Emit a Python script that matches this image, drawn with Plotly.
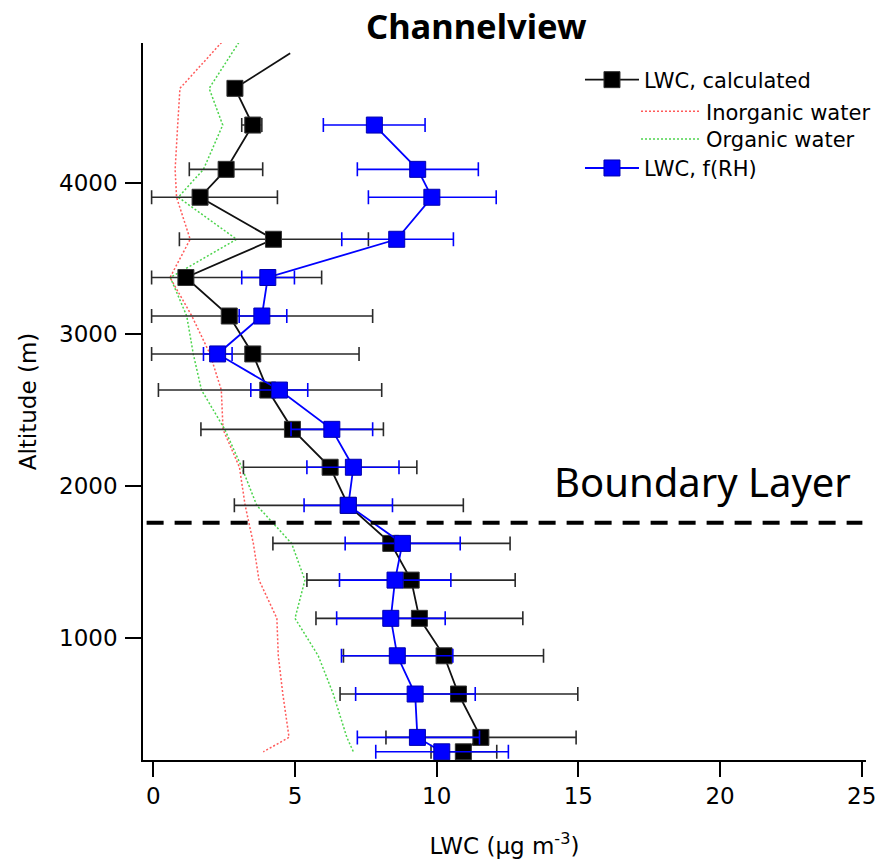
import plotly.graph_objects as go

# Altitude bins (m), top to bottom
altitude = [4622, 4380, 4088, 3904, 3627, 3375, 3121, 2871, 2633, 2374,
            2124, 1873, 1622, 1380, 1128, 881, 629, 343, 248]

# LWC calculated (ug m-3) with lower / upper error limits
lwc_calc = [2.88, 3.51, 2.57, 1.65, 4.24, 1.15, 2.68, 3.51, 4.04, 4.91,
            6.24, 6.88, 8.38, 9.10, 9.39, 10.26, 10.77, 11.56, 10.94]
lwc_calc_lo = [2.88, 3.12, 1.27, -0.06, 0.92, -0.06, -0.06, -0.06, 0.18, 1.68,
               3.18, 2.86, 4.22, 5.42, 5.74, 6.71, 6.59, 8.21, 9.80]
lwc_calc_hi = [2.88, 3.83, 3.86, 4.38, 7.59, 5.94, 7.74, 7.26, 8.06, 8.12,
               9.30, 10.94, 12.59, 12.77, 13.04, 13.77, 14.98, 14.92, 12.12]

# Calculated profile continues above the top bin
calc_top_lwc = [2.88, 4.83]
calc_top_alt = [4622, 4853]

# LWC from f(RH), defined from the second bin downward
frh_alt = altitude[1:]
lwc_frh = [7.80, 9.33, 9.83, 8.59, 4.04, 3.83, 2.27, 4.45, 6.30, 7.06,
           6.88, 8.79, 8.53, 8.38, 8.61, 9.24, 9.32, 10.18]
lwc_frh_lo = [6.00, 7.20, 7.59, 6.65, 3.12, 3.03, 1.77, 3.44, 4.86, 5.42,
              5.32, 6.77, 6.57, 6.47, 6.64, 7.14, 7.20, 7.85]
lwc_frh_hi = [9.59, 11.47, 12.10, 10.59, 4.98, 4.71, 2.78, 5.45, 7.74, 8.67,
              8.44, 10.83, 10.50, 10.30, 10.57, 11.36, 11.51, 12.53]

# Inorganic / organic water profiles
water_alt = [4925] + altitude
inorganic_water = [2.41, 0.94, 0.86, 0.77, 0.82, 1.30, 0.59, 1.36, 2.00, 2.40,
                   2.46, 3.04, 3.24, 3.53, 3.73, 4.36, 4.41, 4.57, 4.79, 3.88]
organic_water = [3.02, 1.97, 2.45, 1.77, 0.88, 2.94, 0.60, 1.18, 1.41, 1.70,
                 2.52, 3.12, 3.65, 4.88, 5.35, 5.00, 5.82, 6.35, 6.83, 7.06]

boundary_layer_alt = 1758

x_ticks = [0, 5, 10, 15, 20, 25]
y_ticks = [1000, 2000, 3000, 4000]

FONT = "DejaVu Sans"
RED = "#ff5a5a"
GREEN = "#4cd44c"
BLUE = "#0000ff"

fig = go.Figure()

fig.add_trace(go.Scatter(
    x=inorganic_water, y=water_alt, mode="lines", name="Inorganic water",
    line=dict(color=RED, width=1.5, dash="2px,2px"), legend="legend2",
))
fig.add_trace(go.Scatter(
    x=organic_water, y=water_alt, mode="lines", name="Organic water",
    line=dict(color=GREEN, width=1.5, dash="2px,2px"), legend="legend3",
))

fig.add_trace(go.Scatter(
    x=calc_top_lwc, y=calc_top_alt, mode="lines", showlegend=False,
    line=dict(color="#111111", width=1.8), hoverinfo="skip",
))
fig.add_trace(go.Scatter(
    x=lwc_calc, y=altitude, mode="lines+markers", name="LWC, calculated",
    line=dict(color="#111111", width=1.8),
    marker=dict(symbol="square", size=16, color="black",
                line=dict(color="#333333", width=1)),
    error_x=dict(type="data", symmetric=False,
                 array=[h - v for h, v in zip(lwc_calc_hi, lwc_calc)],
                 arrayminus=[v - l for v, l in zip(lwc_calc, lwc_calc_lo)],
                 color="#2a2a2a", thickness=1.6, width=7),
    legend="legend",
))
fig.add_trace(go.Scatter(
    x=lwc_frh, y=frh_alt, mode="lines+markers", name="LWC, f(RH)",
    line=dict(color=BLUE, width=1.8),
    marker=dict(symbol="square", size=16, color=BLUE,
                line=dict(color="#0000b0", width=1)),
    error_x=dict(type="data", symmetric=False,
                 array=[h - v for h, v in zip(lwc_frh_hi, lwc_frh)],
                 arrayminus=[v - l for v, l in zip(lwc_frh, lwc_frh_lo)],
                 color=BLUE, thickness=1.6, width=7),
    legend="legend4",
))

fig.add_shape(type="line", xref="paper", yref="y",
              x0=0.005, x1=0.995, y0=boundary_layer_alt, y1=boundary_layer_alt,
              line=dict(color="black", width=4, dash="17px,11px"))

fig.add_annotation(text="Boundary Layer", xref="paper", yref="paper",
                   x=0.774, y=0.389, xanchor="center", yanchor="middle",
                   showarrow=False,
                   font=dict(family="Noto Sans", size=40, color="black"))
fig.add_annotation(text="<b>Channelview</b>", xref="paper", yref="paper",
                   x=0.4606, y=1.025, xanchor="center", yanchor="middle",
                   showarrow=False,
                   font=dict(family="Noto Sans", size=34.5, color="black"))

legend_style = dict(xanchor="left", yanchor="middle", bgcolor="rgba(0,0,0,0)",
                    font=dict(family=FONT, size=21, color="black"),
                    tracegroupgap=0, borderwidth=0)
fig.update_layout(
    legend=dict(x=0.6044, y=0.9484, itemwidth=54, **legend_style),
    legend2=dict(x=0.6819, y=0.9042, itemwidth=60, **legend_style),
    legend3=dict(x=0.6819, y=0.8657, itemwidth=60, **legend_style),
    legend4=dict(x=0.6044, y=0.8252, itemwidth=54, **legend_style),
)

fig.update_xaxes(
    range=[-0.364, 25.15], tickvals=x_ticks, ticks="outside", ticklen=15,
    tickwidth=1.5, tickcolor="black", showline=True, linecolor="black",
    linewidth=1.5, showgrid=False, zeroline=False, automargin=False,
    tickfont=dict(family=FONT, size=23, color="black"),
    title=dict(text="LWC (\u03bcg m<sup>-3</sup>)", standoff=30,
               font=dict(family=FONT, size=23, color="black")),
)
fig.update_yaxes(
    range=[194, 4921], tickvals=y_ticks, ticks="outside", ticklen=16,
    tickwidth=1.5, tickcolor="black", showline=True, linecolor="black",
    linewidth=1.5, showgrid=False, zeroline=False, automargin=False,
    tickfont=dict(family=FONT, size=23, color="black"), ticklabelstandoff=3,
    title=dict(text="Altitude (m)", standoff=16,
               font=dict(family=FONT, size=23, color="black")),
)

fig.update_layout(
    width=879, height=859,
    margin=dict(l=143, r=13, t=43, b=99, autoexpand=False),
    plot_bgcolor="white", paper_bgcolor="white",
    showlegend=True,
)

fig.write_html("out.html")
